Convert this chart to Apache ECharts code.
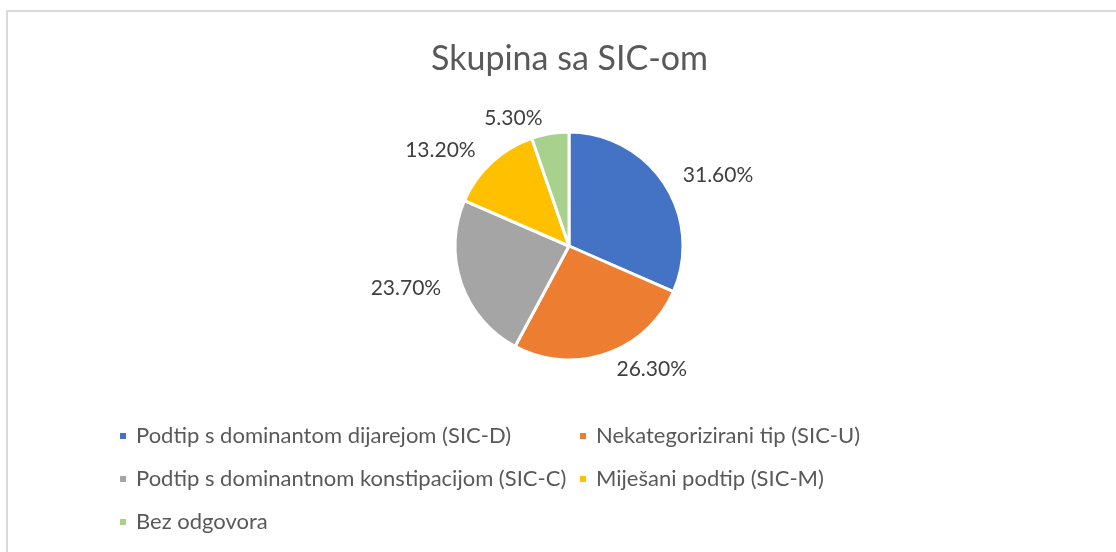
<!DOCTYPE html>
<html>
<head>
<meta charset="utf-8">
<script src="https://cdn.jsdelivr.net/npm/echarts@6/dist/echarts.min.js"></script>
<style>
  html, body { margin: 0; padding: 0; background: #ffffff; }
  #frame {
    position: absolute; left: 6px; top: 10px; width: 1120px; height: 560px;
    border-left: 2px solid #d9d9d9; border-top: 2px solid #d9d9d9;
  }
  #chart { position: absolute; left: 0; top: 0; width: 1116px; height: 552px; }
</style>
</head>
<body>
<div id="frame"></div>
<div id="chart"></div>
<script>
// chart data
const title = 'Skupina sa SIC-om';
const categories = [
  'Podtip s dominantom dijarejom (SIC-D)',
  'Nekategorizirani tip (SIC-U)',
  'Podtip s dominantnom konstipacijom (SIC-C)',
  'Miješani podtip (SIC-M)',
  'Bez odgovora'
];
const percents = [31.6, 26.3, 23.7, 13.2, 5.3];
const colors = ['#4472C4', '#ED7D31', '#A5A5A5', '#FFC000', '#A9D18E'];

const font = 'Lato, "Open Sans", sans-serif';
const chart = echarts.init(document.getElementById('chart'), null, { renderer: 'canvas' });

const option = {
  animation: false,
  title: {
    text: title,
    left: 426,
    top: 37,
    textStyle: { color: '#595959', fontSize: 34, fontWeight: 'normal', fontFamily: font }
  },
  legend: {
    left: 118,
    top: 419,
    width: 960,
    padding: 0,
    itemWidth: 8,
    itemHeight: 8,
    itemGap: 9,
    icon: 'rect',
    textStyle: {
      color: '#595959', fontSize: 22, fontFamily: font,
      width: 433, lineHeight: 34, padding: [0, 0, 0, 4]
    },
    data: categories
  },
  series: [
    {
      name: title,
      type: 'pie',
      center: [569, 246],
      radius: 114,
      startAngle: 90,
      clockwise: true,
      itemStyle: { borderColor: '#ffffff', borderWidth: 3 },
      label: {
        show: true,
        position: 'outside',
        color: '#404040',
        fontSize: 21,
        fontFamily: font,
        formatter: (p) => p.value.toFixed(2) + '%'
      },
      labelLine: { show: false, length: 16, length2: 0 },
      avoidLabelOverlap: false,
      emphasis: { disabled: true },
      data: categories.map((name, i) => ({
        name: name,
        value: percents[i],
        itemStyle: { color: colors[i] }
      }))
    }
  ]
};

chart.setOption(option);
window.addEventListener('resize', () => chart.resize());
</script>
</body>
</html>
